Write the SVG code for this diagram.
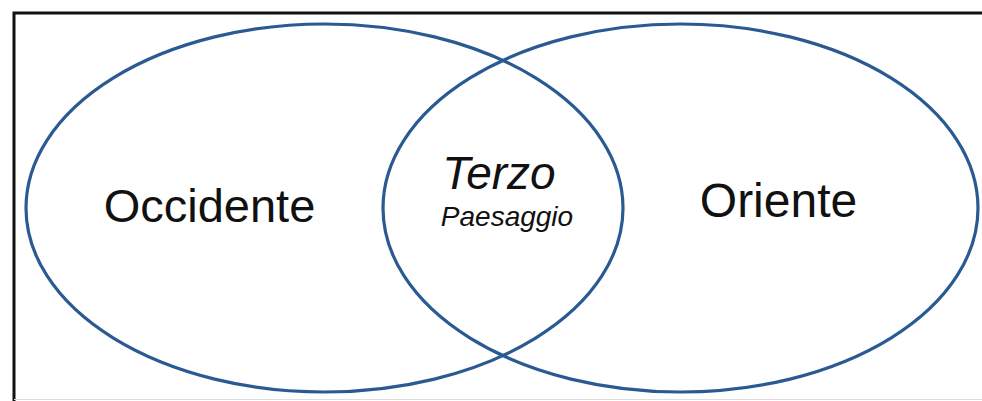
<svg xmlns="http://www.w3.org/2000/svg" width="982" height="401" viewBox="0 0 982 401">
  <style>
    .ell { fill: none; stroke: #2b5a93; stroke-width: 3.2; }
    .lbl { font-family: "Liberation Sans", Arial, sans-serif; fill: #111; }
    .it { font-style: italic; }
  </style>
  <rect x="0" y="0" width="982" height="401" fill="#fff"/>
  <g id="frame">
    <path d="M14 401 V13 H982" fill="none" stroke="#111" stroke-width="3"/>
    <line x1="14" y1="399.5" x2="982" y2="399.5" stroke="#ddd" stroke-width="1"/>
  </g>
  <g id="occidente">
    <ellipse class="ell" cx="324.5" cy="208" rx="298.5" ry="184"/>
    <text class="lbl" x="209.5" y="222" font-size="47" text-anchor="middle">Occidente</text>
  </g>
  <g id="oriente">
    <ellipse class="ell" cx="680.5" cy="208" rx="297.5" ry="184"/>
    <text class="lbl" x="778.5" y="217" font-size="48" text-anchor="middle">Oriente</text>
  </g>
  <g id="terzo-paesaggio">
    <text class="lbl it" x="499" y="189" font-size="46" text-anchor="middle">Terzo</text>
    <text class="lbl it" x="507" y="226" font-size="28" text-anchor="middle">Paesaggio</text>
  </g>
  <g id="connectors"></g>
</svg>
